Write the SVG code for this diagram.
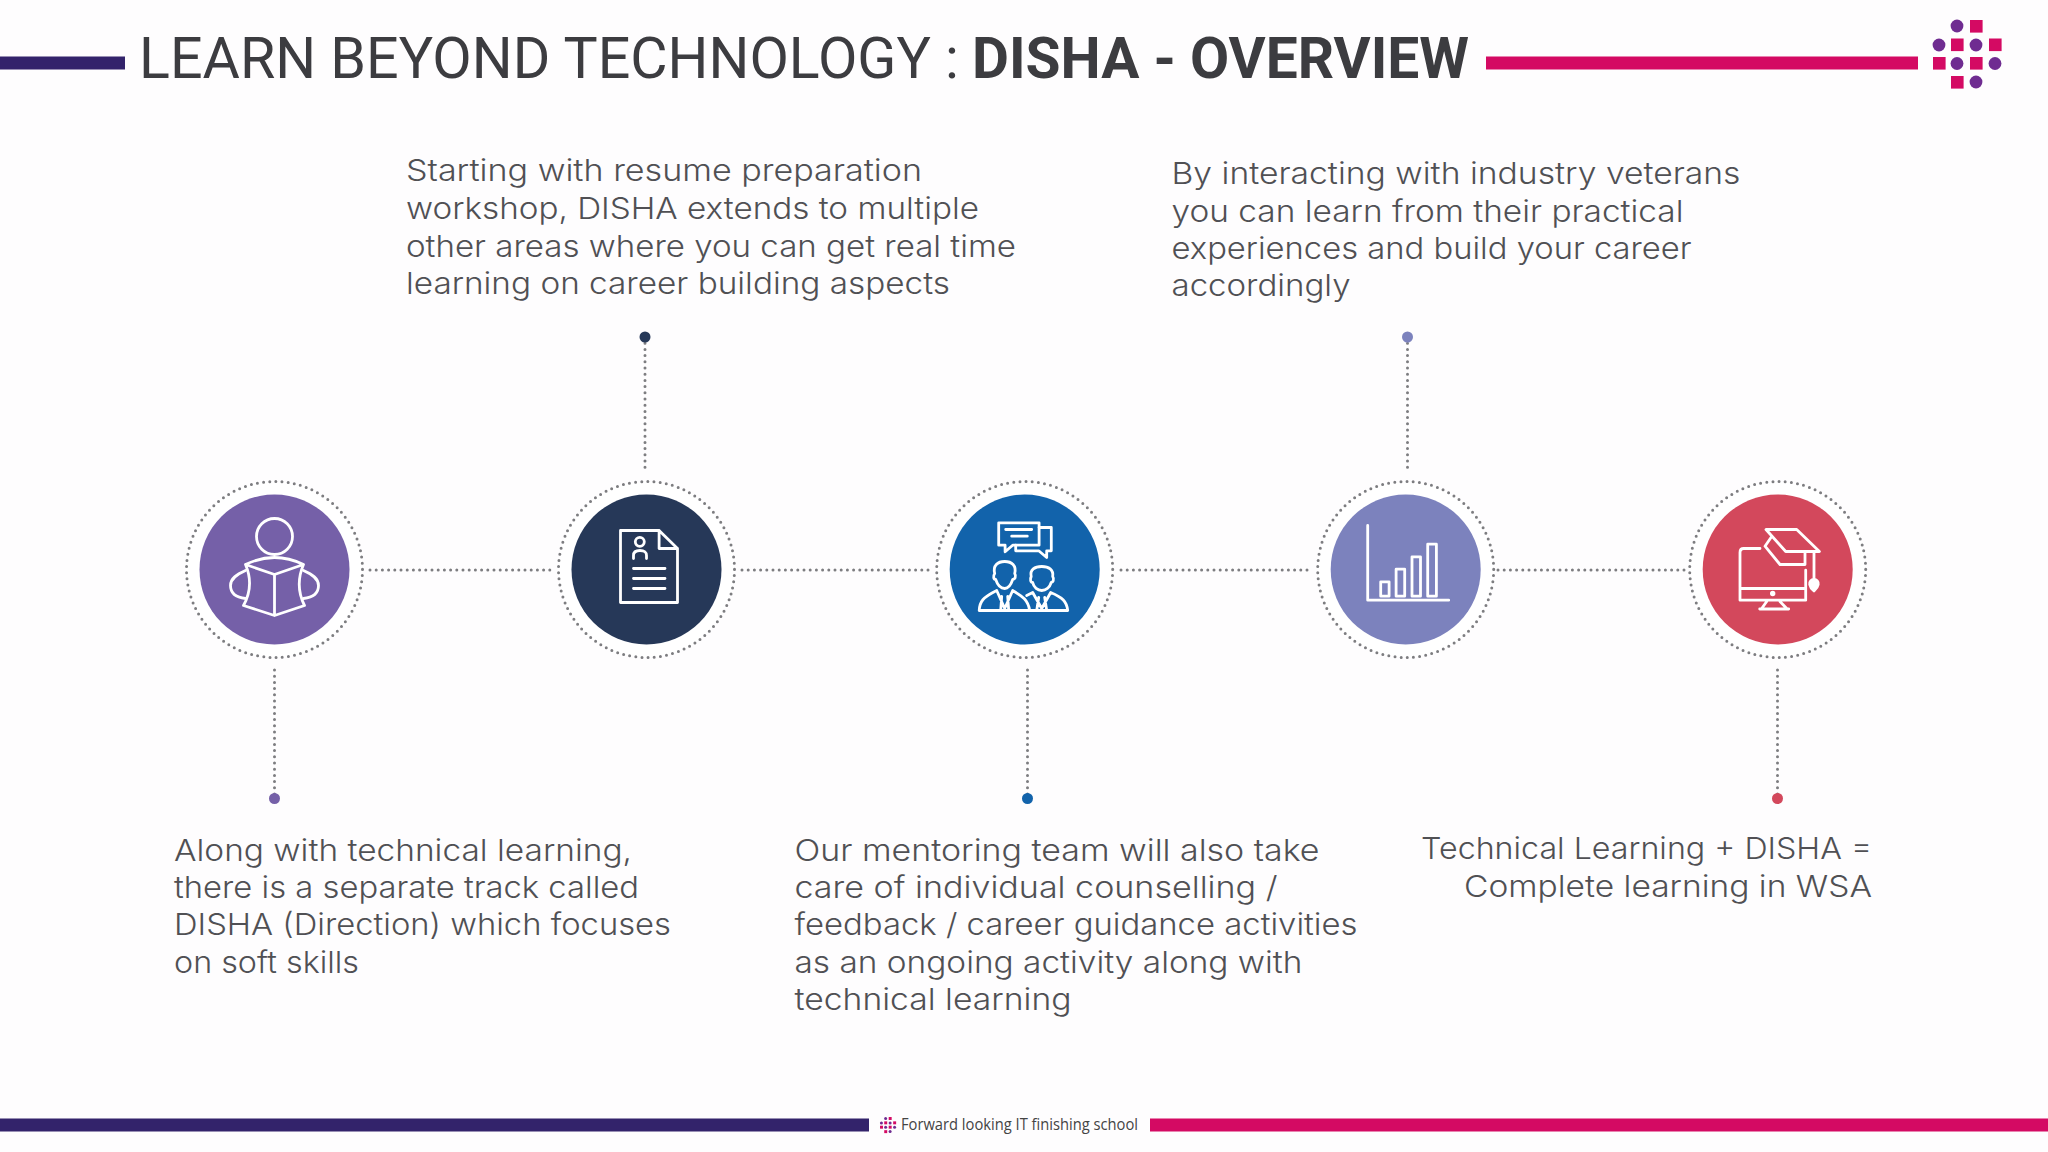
<svg xmlns="http://www.w3.org/2000/svg" width="2048" height="1152" viewBox="0 0 2048 1152">
<style>
.t{font-family:"Inter","Liberation Sans",sans-serif;font-weight:300;font-size:30px;fill:#505054}
.h{font-family:"Roboto","Liberation Sans",sans-serif;font-size:57px;fill:#3c3c40}
.f{font-family:"Open Sans","Liberation Sans",sans-serif;font-size:15.5px;fill:#444}
.ring{fill:#fff;stroke:#7d7d80;stroke-width:3;stroke-linecap:round;stroke-dasharray:0 6.2}
.c{fill:none;stroke:#7d7d80;stroke-width:3;stroke-linecap:round;stroke-dasharray:0 6.2}
.i{fill:none;stroke:#fff;stroke-width:2.800;stroke-linejoin:round;stroke-linecap:round}
.m{fill:#d40a63}.p{fill:#6f2c91}
</style>
<defs>
<g id="lg">
<circle class="p" cx="1957" cy="26" r="6.400"/><rect class="m" x="1970" y="20" width="12.600" height="12.600"/>
<circle class="p" cx="1939" cy="45" r="6.400"/><rect class="m" x="1951" y="38.500" width="12.600" height="12.600"/><circle class="p" cx="1976" cy="45" r="6.400"/><rect class="m" x="1989" y="38.500" width="12.600" height="12.600"/>
<rect class="m" x="1933" y="57" width="12.600" height="12.600"/><circle class="p" cx="1957" cy="63.500" r="6.400"/><rect class="m" x="1970" y="57" width="12.600" height="12.600"/><circle class="p" cx="1995" cy="63.500" r="6.400"/>
<rect class="m" x="1951" y="76" width="12.600" height="12.600"/><circle class="p" cx="1976" cy="82" r="6.400"/>
</g>
</defs>
<rect width="2048" height="1152" fill="#fefdfe"/>
<g id="header">
<rect x="0" y="56.500" width="125" height="13" fill="#33236b"/>
<rect x="1486" y="56.500" width="432" height="13" fill="#d40a63"/>
<text class="h" x="139" y="78" textLength="820" lengthAdjust="spacingAndGlyphs">LEARN BEYOND TECHNOLOGY :</text>
<text class="h" x="972" y="78" font-weight="700" textLength="497" lengthAdjust="spacingAndGlyphs">DISHA - OVERVIEW</text>
<use href="#lg"/>
</g>
<g id="connectors">
<path class="c" d="M370 570H551M742 570H930M1121 570H1308M1498 570H1688"/>
<path class="c" d="M645 337V470M1407.500 337V470M274.500 670V798M1027.500 670V798M1777.500 670V798"/>
<circle cx="645" cy="337" r="5.500" fill="#263858"/>
<circle cx="1407.500" cy="337" r="5.500" fill="#7c82bd"/>
<circle cx="274.500" cy="798.500" r="5.500" fill="#7560a8"/>
<circle cx="1027.500" cy="798.500" r="5.500" fill="#1263ab"/>
<circle cx="1777.500" cy="798.500" r="5.500" fill="#d3485c"/>
</g>
<g id="node-reader" transform="translate(274.500 569.500)">
<circle class="ring" r="88"/><circle r="75" fill="#7560a8"/>
<g class="i" stroke-width="3.200"><circle cx="0" cy="-33" r="18"/>
<path d="M0 5L-29 -5Q-20 16 -31 36L0 46L30 36Q20 16 29 -5ZM0 5V46M-29 -5Q0 -19 29 -5"/>
<path d="M-29 1C-38 5 -44 9 -44 16C-44 24 -38 28 -29 29"/>
<path d="M29 1C38 5 44 9 44 16C44 24 38 28 29 29"/></g>
</g>
<g id="node-resume" transform="translate(646.500 569.500)">
<circle class="ring" r="88"/><circle r="75" fill="#263858"/>
<g class="i"><path d="M-26 -39H12.600L31 -21V33H-26ZM12.600 -39V-21H31"/><circle cx="-6.700" cy="-27.700" r="4.500"/>
<path d="M-13 -11V-14Q-13 -19 -6.500 -19Q0 -19 0 -14V-11M-13 -1H18.500M-13 9H18.500M-13 19H18.500"/></g>
</g>
<g id="node-mentors" transform="translate(1024.700 569.500)">
<circle class="ring" r="88"/><circle r="75" fill="#1263ab"/>
<g class="i" stroke-width="2.500"><path d="M-26 -46.700H14.400V-24.300H-12L-19.600 -17.700V-24.300H-26Z"/>
<path d="M14.400 -42H26.600V-18.700H22V-12L14 -18.700H-9V-24.300M-19 -40H7M-13 -33.300H2.600"/>
<path d="M-30 4C-32 -4 -27 -8 -20 -8C-13 -8 -8 -4 -10 4C-8 7 -10 10 -12 10C-14 16 -17 19 -20 19C-24 19 -27 16 -29 10C-31 10 -32 7 -30 4Z"/>
<path d="M6.500 7C5 0 10 -3 17 -3C24 -3 29 0 28 7C30 10 28 13 26.500 13C25 18 21 21 17 21C13 21 9 18 8 13C6 13 5 10 6.500 7Z"/>
<path d="M-45.500 41H43C42 32 38 28 26 23L17 39L8 23L2 26M-45.500 41C-45 32 -42 28 -28 21L-20 39L-12 21C-4 26 3 29 5 41M-23 27L-24 41M-17 27L-16 41M14 28L12 41M20 28L22 41"/></g>
</g>
<g id="node-chart" transform="translate(1405.700 569.500)">
<circle class="ring" r="88"/><circle r="75" fill="#7c82bd"/>
<g class="i"><path d="M-38 -44V30.700H43"/><rect x="-25" y="12.300" width="8.400" height="14.400"/><rect x="-9.600" y="-0.300" width="8.600" height="27"/><rect x="6.300" y="-12.700" width="8.500" height="39.400"/><rect x="22" y="-25.300" width="8.700" height="52"/></g>
</g>
<g id="node-graduate" transform="translate(1777.700 569.500)">
<circle class="ring" r="88"/><circle r="75" fill="#d3485c"/>
<g class="i" stroke-width="3.200"><path d="M-17.700 -21H-34Q-37.700 -21 -37.700 -17V30.700H28V0.700M-37.700 19H28M-11 32L-16 39M2.300 32L9 39M-18 39.500H11"/>
<path d="M-11.700 -40H19L41.700 -18H8ZM-6 -33L-12.700 -23.300L2.300 -5H27.300V-18M36.300 -18V9"/><circle cx="-5" cy="24" r="1.300"/><path d="M36.300 10C39 10 41 12 40.500 15C40 18 38 20 36.300 21.500C34.500 20 32.500 18 32 15C31.500 12 33.500 10 36.300 10Z" fill="#fff"/></g>
</g>
<g id="text-top-left">
<text class="t" x="406" y="181" textLength="516" lengthAdjust="spacingAndGlyphs">Starting with resume preparation</text>
<text class="t" x="406" y="219" textLength="573" lengthAdjust="spacingAndGlyphs">workshop, DISHA extends to multiple</text>
<text class="t" x="406" y="257" textLength="610" lengthAdjust="spacingAndGlyphs">other areas where you can get real time</text>
<text class="t" x="406" y="294" textLength="544" lengthAdjust="spacingAndGlyphs">learning on career building aspects</text>
</g>
<g id="text-top-right">
<text class="t" x="1171.500" y="184" textLength="569" lengthAdjust="spacingAndGlyphs">By interacting with industry veterans</text>
<text class="t" x="1171.500" y="222" textLength="512" lengthAdjust="spacingAndGlyphs">you can learn from their practical</text>
<text class="t" x="1171.500" y="259" textLength="520" lengthAdjust="spacingAndGlyphs">experiences and build your career</text>
<text class="t" x="1171.500" y="296" textLength="179" lengthAdjust="spacingAndGlyphs">accordingly</text>
</g>
<g id="text-bottom-left">
<text class="t" x="174" y="861" textLength="458" lengthAdjust="spacingAndGlyphs">Along with technical learning,</text>
<text class="t" x="174" y="898" textLength="465" lengthAdjust="spacingAndGlyphs">there is a separate track called</text>
<text class="t" x="174" y="935" textLength="497" lengthAdjust="spacingAndGlyphs">DISHA (Direction) which focuses</text>
<text class="t" x="174" y="973" textLength="185" lengthAdjust="spacingAndGlyphs">on soft skills</text>
</g>
<g id="text-bottom-center">
<text class="t" x="794.500" y="861" textLength="525" lengthAdjust="spacingAndGlyphs">Our mentoring team will also take</text>
<text class="t" x="794.500" y="898" textLength="483" lengthAdjust="spacingAndGlyphs">care of individual counselling /</text>
<text class="t" x="794.500" y="935" textLength="563" lengthAdjust="spacingAndGlyphs">feedback / career guidance activities</text>
<text class="t" x="794.500" y="972.500" textLength="508" lengthAdjust="spacingAndGlyphs">as an ongoing activity along with</text>
<text class="t" x="794.500" y="1010" textLength="277" lengthAdjust="spacingAndGlyphs">technical learning</text>
</g>
<g id="text-bottom-right">
<text class="t" x="1421" y="859" textLength="451" lengthAdjust="spacingAndGlyphs">Technical Learning + DISHA =</text>
<text class="t" x="1464" y="896.500" textLength="408" lengthAdjust="spacingAndGlyphs">Complete learning in WSA</text>
</g>
<g id="footer">
<rect x="0" y="1118.500" width="869" height="13" fill="#33236b"/>
<rect x="1150" y="1118.500" width="898" height="13" fill="#d40a63"/>
<use href="#lg" transform="translate(888 1125) scale(.235) translate(-1967 -54)"/>
<text class="f" x="901" y="1130" textLength="237" lengthAdjust="spacingAndGlyphs">Forward looking IT finishing school</text>
</g>
</svg>
